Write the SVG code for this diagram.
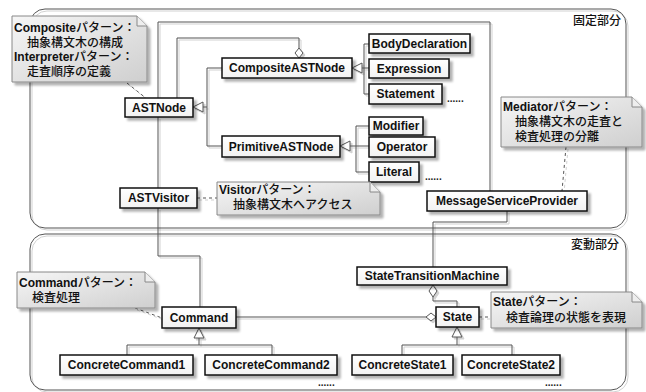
<svg xmlns="http://www.w3.org/2000/svg" width="646" height="392" viewBox="0 0 646 392">
<defs>
<filter id="sh" x="-10%" y="-10%" width="130%" height="150%"><feDropShadow dx="3" dy="3" stdDeviation="1" flood-color="#000" flood-opacity="0.3"/></filter>
<filter id="lsh" x="-5%" y="-5%" width="110%" height="110%"><feDropShadow dx="2" dy="2" stdDeviation="0.4" flood-color="#000" flood-opacity="0.18"/></filter>
<linearGradient id="ng" x1="0" y1="0" x2="1" y2="1"><stop offset="0" stop-color="#f6f6f6"/><stop offset="1" stop-color="#cfcfcf"/></linearGradient>
<linearGradient id="cg" x1="0" y1="0" x2="0" y2="1"><stop offset="0" stop-color="#ffffff"/><stop offset="1" stop-color="#f2f2f2"/></linearGradient>
<style>
.frame{fill:none;stroke:#555;stroke-width:1}
.cls rect{fill:url(#cg);stroke:#111;stroke-width:1.5;filter:url(#sh)}
.cls text{font-family:"Liberation Sans","Noto Sans CJK JP",sans-serif;font-size:12px;font-weight:bold;fill:#111;text-anchor:middle}
.note path.b{fill:url(#ng);stroke:#888;stroke-width:1;filter:url(#sh)}
.note path.f{fill:#eee;stroke:#888;stroke-width:1}
.note text{font-family:"Liberation Sans","Noto Sans CJK JP",sans-serif;font-size:12px;font-weight:500;fill:#111}
.lat{font-weight:bold}
.ln{fill:none;stroke:#555;stroke-width:1}
.dash{fill:none;stroke:#555;stroke-width:1;stroke-dasharray:3,3}
.tri{fill:#fff;stroke:#555;stroke-width:1}
.lbl{font-family:"Noto Sans CJK JP",sans-serif;font-size:12px;font-weight:500;fill:#111}
.dots{font-family:"Liberation Sans",sans-serif;font-size:10px;font-weight:bold;fill:#222}
</style>
</defs>
<rect width="646" height="392" fill="#fff"/>
<g id="frames" filter="url(#lsh)">
<rect class="frame" x="30" y="9" width="596" height="219" rx="15" ry="15"/>
<rect class="frame" x="30" y="234" width="596" height="156" rx="15" ry="15"/>
</g>
<text class="lbl" x="573" y="25">固定部分</text>
<text class="lbl" x="571" y="249">変動部分</text>

<g id="connectors" filter="url(#lsh)">
<path class="ln" d="M490,191 V22 H158 V98"/>
<path class="ln" d="M158,117 V188"/>
<path class="ln" d="M158,208 V256 H200 V307"/>
<path class="ln" d="M299,48 V38 H177 V98"/>
<path class="tri" d="M299,58 L303,53 L299,48 L295,53 Z"/>
<path class="ln" d="M203,107 H207 M207,68 V146 M207,68 H222 M207,146 H222"/>
<path class="tri" d="M193,107 L203,102 L203,112 Z"/>
<path class="ln" d="M362,68 H364 M364,44 V94 M364,44 H369 M364,68 H369 M364,94 H369"/>
<path class="tri" d="M352,68 L362,63 L362,73 Z"/>
<path class="ln" d="M350,146 H356 M356,126 V172 M356,126 H369 M356,146 H369 M356,172 H369"/>
<path class="tri" d="M340,146 L350,141 L350,151 Z"/>
<path class="ln" d="M507,211 V222 H433 V267"/>
<path class="ln" d="M433,297 V301 H457 V307"/>
<path class="tri" d="M433,285 L437,291 L433,297 L429,291 Z"/>
<path class="ln" d="M236,317 H426"/>
<path class="tri" d="M436,317 L431,321 L426,317 L431,313 Z"/>
<path class="ln" d="M199,338 V345 M127,345 H272 M127,345 V355 M272,345 V355"/>
<path class="tri" d="M199,328 L204,338 L194,338 Z"/>
<path class="ln" d="M457,337 V345 M402,345 H512 M402,345 V355 M512,345 V355"/>
<path class="tri" d="M457,327 L462,337 L452,337 Z"/>
<path class="dash" d="M127,83 L147,99"/>
<path class="dash" d="M197,198 H217"/>
<path class="dash" d="M566,147 L562,191"/>
<path class="dash" d="M135,308 L162,318"/>
<path class="dash" d="M479,317 H491"/>
</g>

<g id="ASTNode" class="cls"><rect x="125" y="98" width="68" height="19"/><text x="159" y="111.5">ASTNode</text></g>
<g id="CompositeASTNode" class="cls"><rect x="222" y="58" width="130" height="20"/><text x="287" y="72">CompositeASTNode</text></g>
<g id="PrimitiveASTNode" class="cls"><rect x="222" y="136" width="118" height="21"/><text x="281" y="150.5">PrimitiveASTNode</text></g>
<g id="BodyDeclaration" class="cls"><rect x="369" y="34" width="101" height="19"/><text x="419.5" y="47.5">BodyDeclaration</text></g>
<g id="Expression" class="cls"><rect x="369" y="59" width="80" height="19"/><text x="409" y="72.5">Expression</text></g>
<g id="Statement" class="cls"><rect x="369" y="84" width="73" height="20"/><text x="405.5" y="98">Statement</text></g>
<g id="Modifier" class="cls"><rect x="369" y="117" width="54" height="18"/><text x="396" y="130">Modifier</text></g>
<g id="Operator" class="cls"><rect x="369" y="137" width="66" height="20"/><text x="402" y="151">Operator</text></g>
<g id="Literal" class="cls"><rect x="369" y="162" width="50" height="20"/><text x="394" y="176">Literal</text></g>
<g id="ASTVisitor" class="cls"><rect x="120" y="188" width="77" height="20"/><text x="158.5" y="202">ASTVisitor</text></g>
<g id="MessageServiceProvider" class="cls"><rect x="427" y="191" width="160" height="20"/><text x="507" y="205">MessageServiceProvider</text></g>
<g id="StateTransitionMachine" class="cls"><rect x="357" y="267" width="150" height="18"/><text x="432" y="280">StateTransitionMachine</text></g>
<g id="Command" class="cls"><rect x="162" y="307" width="74" height="21"/><text x="199" y="321.5">Command</text></g>
<g id="State" class="cls"><rect x="436" y="307" width="43" height="20"/><text x="457.5" y="321">State</text></g>
<g id="ConcreteCommand1" class="cls"><rect x="60" y="355" width="133" height="20"/><text x="126.5" y="369">ConcreteCommand1</text></g>
<g id="ConcreteCommand2" class="cls"><rect x="205" y="355" width="132" height="20"/><text x="271" y="369">ConcreteCommand2</text></g>
<g id="ConcreteState1" class="cls"><rect x="352" y="355" width="101" height="20"/><text x="402.5" y="369">ConcreteState1</text></g>
<g id="ConcreteState2" class="cls"><rect x="462" y="355" width="98" height="20"/><text x="511" y="369">ConcreteState2</text></g>

<text class="dots" x="447" y="102">......</text>
<text class="dots" x="425" y="180">......</text>
<text class="dots" x="318" y="386">......</text>
<text class="dots" x="545" y="386">......</text>

<g id="noteComposite" class="note">
<path class="b" d="M12,16 H137 L147,26 V82 H12 Z"/><path class="f" d="M137,16 V26 H147"/>
<text x="14" y="32"><tspan class="lat">Composite</tspan>パターン：</text>
<text x="27" y="47">抽象構文木の構成</text>
<text x="14" y="61"><tspan class="lat">Interpreter</tspan>パターン：</text>
<text x="27" y="76">走査順序の定義</text>
</g>
<g id="noteMediator" class="note">
<path class="b" d="M501,97 H632 L642,107 V147 H501 Z"/><path class="f" d="M632,97 V107 H642"/>
<text x="503" y="111"><tspan class="lat">Mediator</tspan>パターン：</text>
<text x="515" y="126">抽象構文木の走査と</text>
<text x="515" y="141">検査処理の分離</text>
</g>
<g id="noteVisitor" class="note">
<path class="b" d="M217,182 H370 L380,192 V215 H217 Z"/><path class="f" d="M370,182 V192 H380"/>
<text x="219" y="194"><tspan class="lat">Visitor</tspan>パターン：</text>
<text x="233" y="209">抽象構文木へアクセス</text>
</g>
<g id="noteCommand" class="note">
<path class="b" d="M17,272 H145 L155,282 V308 H17 Z"/><path class="f" d="M145,272 V282 H155"/>
<text x="19" y="287"><tspan class="lat">Command</tspan>パターン：</text>
<text x="32" y="302">検査処理</text>
</g>
<g id="noteState" class="note">
<path class="b" d="M491,292 H632 L642,302 V328 H491 Z"/><path class="f" d="M632,292 V302 H642"/>
<text x="493" y="306"><tspan class="lat">State</tspan>パターン：</text>
<text x="506" y="322">検査論理の状態を表現</text>
</g>
</svg>
